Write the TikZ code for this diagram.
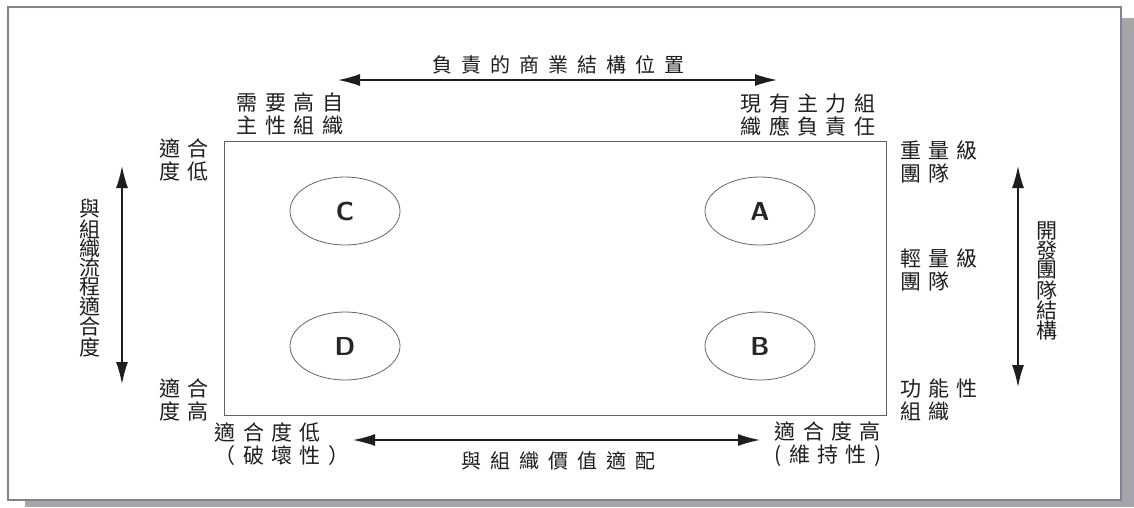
\documentclass[tikz,border=0pt]{standalone}
\usepackage{fontspec}
\setmainfont{Liberation Sans}
\newfontfamily\cjkw{Noto Sans CJK TC}[LetterSpace=35]
\newfontfamily\cjkt{Noto Sans CJK TC}[LetterSpace=45]
\newfontfamily\cjkv{Noto Sans CJK TC}
\usetikzlibrary{arrows.meta,shapes.geometric}
\definecolor{framec}{RGB}{128,128,150}
\definecolor{shadowc}{RGB}{165,165,170}
\definecolor{inkc}{RGB}{30,30,30}
\tikzset{
  lbl/.style={inner sep=0pt, text=inkc, align=left, font=\cjkw\fontsize{21}{23}\selectfont},
  vlbl/.style={inner sep=0pt, text=inkc, align=center, font=\cjkv\fontsize{21}{19}\selectfont},
  ttl/.style={inner sep=0pt, text=inkc, font=\cjkt\fontsize{20}{22}\selectfont},
  bubble/.style={draw=gray!80!black, line width=0.8pt, ellipse, minimum width=110pt, minimum height=68pt, inner sep=0pt, font=\sffamily\bfseries\fontsize{26}{26}\selectfont, text=black!85},
  dblarrow/.style={draw=inkc, line width=1.4pt, {Latex[length=22pt,width=12pt]}-{Latex[length=22pt,width=12pt]}},
}
\begin{document}
\begin{tikzpicture}[x=1pt,y=-1pt]
\useasboundingbox (0,0) rectangle (1134,507);
% shadow and frame
\fill[shadowc] (1121,18) rectangle (1134,507);
\fill[shadowc] (25,500) rectangle (1134,507);
\draw[framec, line width=2pt, fill=white] (8,7) rectangle (1121,500);
% inner rectangle
\draw[gray!75!black, line width=0.8pt] (224,141) rectangle (886,415);
% bubbles
\node[bubble] (C) at (345,211) {C};
\node[bubble] (D) at (345,346) {D};
\node[bubble] (A) at (760,211) {A};
\node[bubble] (B) at (760,346) {B};
% top
\node[ttl] (ttl) at (558,65) {負責的商業結構位置};
\coordinate (tL) at (338,80);
\coordinate (tR) at (777,80);
\draw[dblarrow] (tL) -- (tR);
\node[lbl] (tl) at (290,114) {需要高自\\主性組織};
\node[lbl] (tr) at (808,115) {現有主力組\\織應負責任};
% left
\node[lbl] (lt) at (184,160) {適合\\度低};
\node[lbl] (lb) at (184,400) {適合\\度高};
\coordinate (lT) at (122,166);
\coordinate (lB) at (122,384);
\draw[dblarrow] (lT) -- (lB);
\node[vlbl] (lv) at (90,278) {與\\組\\織\\流\\程\\適\\合\\度};
% right
\node[lbl, anchor=west] (r1) at (900,162) {重量級\\團隊};
\node[lbl, anchor=west] (r2) at (900,270) {輕量級\\團隊};
\node[lbl, anchor=west] (r3) at (900,400) {功能性\\組織};
\coordinate (rT) at (1018,166);
\coordinate (rB) at (1018,387);
\draw[dblarrow] (rT) -- (rB);
\node[vlbl] (rv) at (1047,281) {開\\發\\團\\隊\\結\\構};
% bottom
\node[lbl] (bl) at (282,444) {適合度低\\（破壞性）};
\node[lbl] (br) at (828,444) {適合度高\\(維持性)};
\coordinate (bL) at (353,440);
\coordinate (bR) at (760,440);
\draw[dblarrow] (bL) -- (bR);
\node[ttl] (bt) at (558,461) {與組織價值適配};
\end{tikzpicture}
\end{document}
